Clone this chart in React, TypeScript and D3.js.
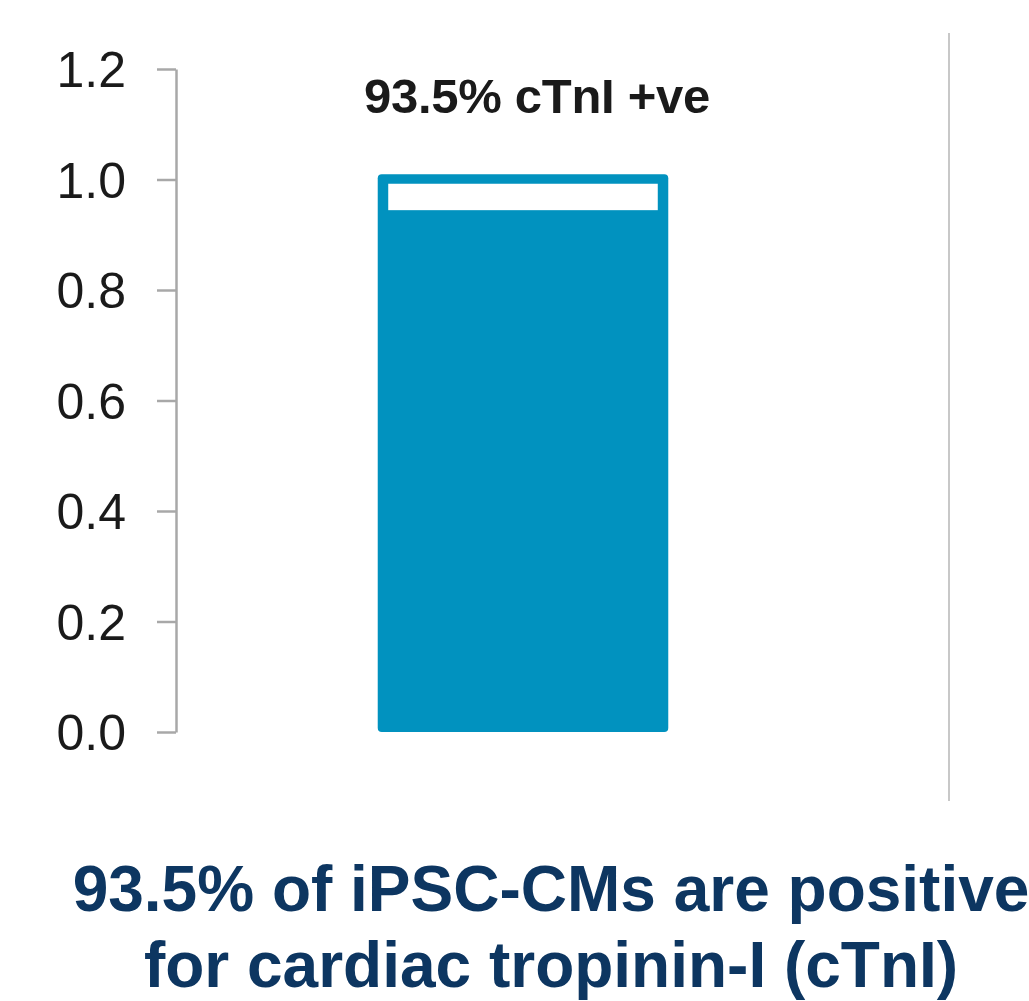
import React, { useEffect, useRef } from "react";
import * as d3 from "d3";

// Share of cells that stain positive / negative for cardiac troponin-I
const categories = ["iPSC-CMs"];
const positiveShare = [0.935];
const negativeShare = [0.065];
const tickValues = [0, 0.2, 0.4, 0.6, 0.8, 1.0, 1.2];
const barLabels = ["93.5% cTnI +ve"];
const titleLines = ["93.5% of iPSC-CMs are positive", "for cardiac tropinin-I (cTnI)"];

const W = 1029;
const H = 1001;
const FONT = "'Liberation Sans', Arial, Helvetica, sans-serif";
const BAR_BLUE = "#0192bf";
const NAVY = "#0d3661";
const AXIS_GREY = "#a8a8a8";

export default function App() {
  const axisRef = useRef<SVGGElement>(null);

  const y = d3.scaleLinear().domain([0, 1.2]).range([732, 69]);
  const x = d3.scaleBand<string>().domain(categories).range([176, 870]).padding(0.425);

  useEffect(() => {
    if (!axisRef.current) return;
    const g = d3.select(axisRef.current);
    g.selectAll("*").remove();
    g.call(
      d3
        .axisLeft(y)
        .tickValues(tickValues)
        .tickFormat(d3.format(".1f"))
        .tickSize(19)
        .tickSizeOuter(0)
        .tickPadding(31)
    );
    g.select(".domain").attr("stroke", AXIS_GREY).attr("stroke-width", 2.5);
    g.selectAll(".tick line").attr("stroke", AXIS_GREY).attr("stroke-width", 2.5);
    g.selectAll(".tick text")
      .attr("fill", "#1a1a1a")
      .attr("font-size", 50)
      .attr("font-family", FONT)
      .attr("dy", "0.35em");
  }, []);

  const sw = 10.5;

  return (
    <svg
      width={W}
      height={H}
      style={{ position: "absolute", left: 0, top: 0, background: "#fff" }}
      fontFamily={FONT}
    >
      <rect width={W} height={H} fill="#fff" />
      <g ref={axisRef} transform={`translate(176,0)`} />

      {categories.map((c, i) => {
        const x0 = x(c)!;
        const bw = x.bandwidth();
        const total = positiveShare[i] + negativeShare[i];
        return (
          <g key={c}>
            {/* full stacked column in blue, with rounded outline at the top */}
            <rect
              x={x0 - sw / 2}
              y={y(total) - sw / 2}
              width={bw + sw}
              height={y(0) - y(total) + sw / 2}
              rx={4}
              fill={BAR_BLUE}
            />
            {/* negative fraction shown as white fill inside the outline */}
            <rect
              x={x0 + sw / 2}
              y={y(total) + sw / 2 - 1}
              width={bw - sw}
              height={y(positiveShare[i]) - y(total) - sw + 1}
              fill="#fff"
            />
            <text
              x={x0 + bw / 2 + 14}
              y={y(total) - 67}
              textAnchor="middle"
              fontSize={49}
              fontWeight="bold"
              fill="#1a1a1a"
              letterSpacing={-0.3}
            >
              {barLabels[i]}
            </text>
          </g>
        );
      })}

      <line x1={949} x2={949} y1={33} y2={801} stroke="#c8c8c8" strokeWidth={2} />

      {titleLines.map((t, i) => (
        <text
          key={i}
          x={551}
          y={911 + i * 76}
          textAnchor="middle"
          fontSize={64}
          fontWeight="bold"
          fill={NAVY}
        >
          {t}
        </text>
      ))}
    </svg>
  );
}
